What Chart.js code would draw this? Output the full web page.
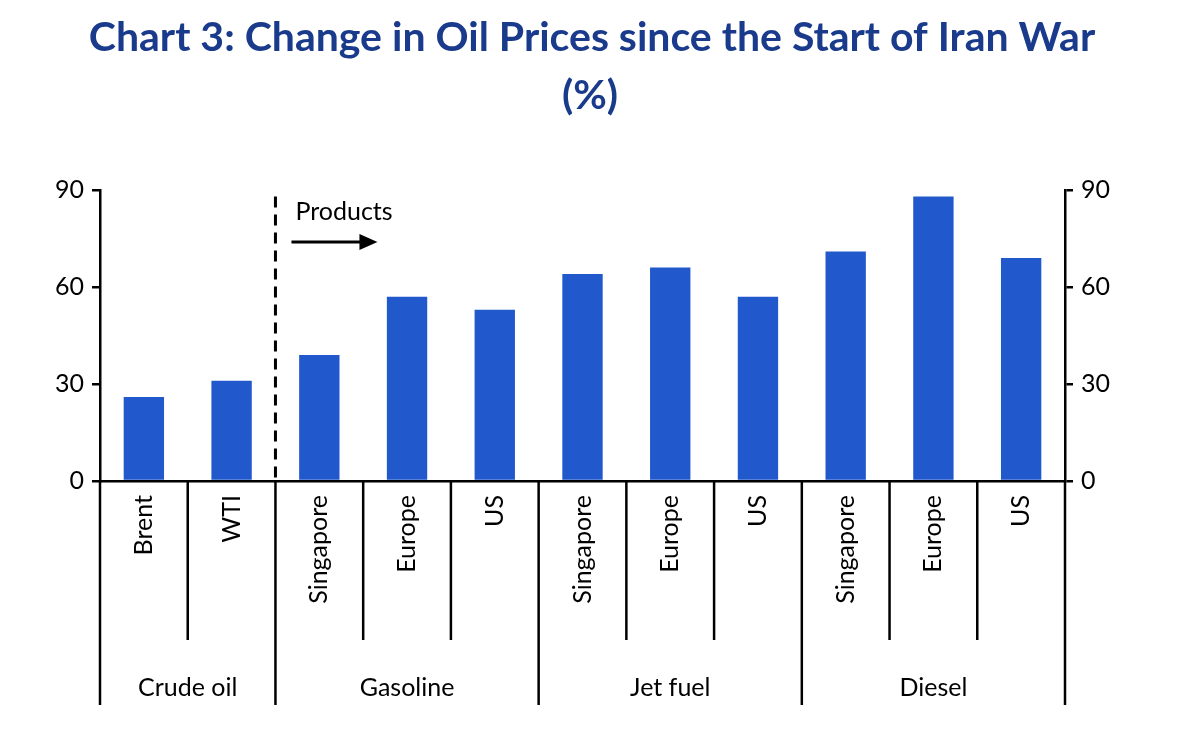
<!DOCTYPE html>
<html><head><meta charset="utf-8">
<script src="https://cdn.jsdelivr.net/npm/chart.js@4"></script>
<style>body{margin:0;background:#fff}#wrap{width:1200px;height:738px}</style>
</head><body><div id="wrap"><canvas id="c"></canvas></div>
<script>
const categories = ['Brent', 'WTI', 'Singapore', 'Europe', 'US', 'Singapore', 'Europe', 'US', 'Singapore', 'Europe', 'US'];
const groups = ['Crude oil', 'Gasoline', 'Jet fuel', 'Diesel'];
const groupStarts = [0, 2, 5, 8, 11];
const changes = [26, 31, 39, 57, 53, 64, 66, 57, 71, 88, 69];
const yTicks = [0, 30, 60, 90];

const font = 'Lato, "Open Sans", sans-serif';

const decor = {
  id: 'decor',
  afterDraw(chart) {
    const ctx = chart.ctx, x = chart.scales.x, y = chart.scales.y;
    const area = chart.chartArea;
    const half = (x.getPixelForValue(1) - x.getPixelForValue(0)) / 2;
    ctx.save();
    // title
    ctx.fillStyle = '#1a3a8c';
    ctx.font = 'bold 41px ' + font;
    ctx.textAlign = 'center';
    ctx.textBaseline = 'middle';
    ctx.fillText('Chart 3: Change in Oil Prices since the Start of Iran War', 592, 38);
    ctx.fillText('(%)', 590, 96);
    // separators
    ctx.strokeStyle = '#000';
    ctx.lineWidth = 2.5;
    for (let i = 0; i < categories.length; i++) {
      if (groupStarts.includes(i)) continue;
      const px = x.getPixelForValue(i) - half;
      ctx.beginPath(); ctx.moveTo(px, area.bottom); ctx.lineTo(px, 640); ctx.stroke();
    }
    groupStarts.forEach(i => {
      const px = x.getPixelForValue(i) - half;
      ctx.beginPath(); ctx.moveTo(px, area.bottom); ctx.lineTo(px, 705); ctx.stroke();
    });
    // category labels
    ctx.fillStyle = '#000';
    ctx.font = '25px ' + font;
    ctx.textAlign = 'right';
    categories.forEach((c, i) => {
      ctx.save();
      ctx.translate(x.getPixelForValue(i), area.bottom + 14);
      ctx.rotate(-Math.PI / 2);
      ctx.fillText(c, 0, 0);
      ctx.restore();
    });
    ctx.textAlign = 'center';
    groups.forEach((g, k) => {
      const a = x.getPixelForValue(groupStarts[k]) - half;
      const b = x.getPixelForValue(groupStarts[k + 1]) - half;
      ctx.fillText(g, (a + b) / 2, 688);
    });
    // products marker
    const dx = x.getPixelForValue(2) - half;
    ctx.lineWidth = 3;
    ctx.setLineDash([11, 7]);
    ctx.beginPath(); ctx.moveTo(dx, y.getPixelForValue(88)); ctx.lineTo(dx, area.bottom); ctx.stroke();
    ctx.setLineDash([]);
    ctx.textAlign = 'left';
    ctx.fillText('Products', dx + 20, 212);
    ctx.beginPath(); ctx.moveTo(dx + 16, 242); ctx.lineTo(dx + 88, 242); ctx.stroke();
    ctx.beginPath(); ctx.moveTo(dx + 102, 242); ctx.lineTo(dx + 84, 234); ctx.lineTo(dx + 84, 250); ctx.closePath(); ctx.fill();
    ctx.restore();
  }
};

const axisCommon = {
  min: 0, max: 90,
  ticks: { stepSize: 30, color: '#000', font: { family: font, size: 25 }, padding: 8 },
  grid: { drawOnChartArea: false, drawTicks: true, tickLength: 8, color: '#000', lineWidth: 2.5 },
  border: { color: '#000', width: 2.5 }
};

new Chart(document.getElementById('c'), {
  type: 'bar',
  data: {
    labels: categories,
    datasets: [{ data: changes, backgroundColor: '#2158cc', categoryPercentage: 1, barPercentage: 0.46 }]
  },
  options: {
    responsive: true,
    maintainAspectRatio: false,
    animation: false,
    layout: { padding: { top: 190, bottom: 257 } },
    plugins: { legend: { display: false }, tooltip: { enabled: false } },
    scales: {
      x: {
        ticks: { display: false },
        grid: { display: false },
        border: { color: '#000', width: 2.5 },
        afterFit: s => { s.height = 0; }
      },
      y: Object.assign({}, axisCommon, { position: 'left', afterFit: s => { s.width = 100; } }),
      y1: Object.assign({}, axisCommon, { position: 'right', afterFit: s => { s.width = 135; } })
    }
  },
  plugins: [decor]
});
</script></body></html>
